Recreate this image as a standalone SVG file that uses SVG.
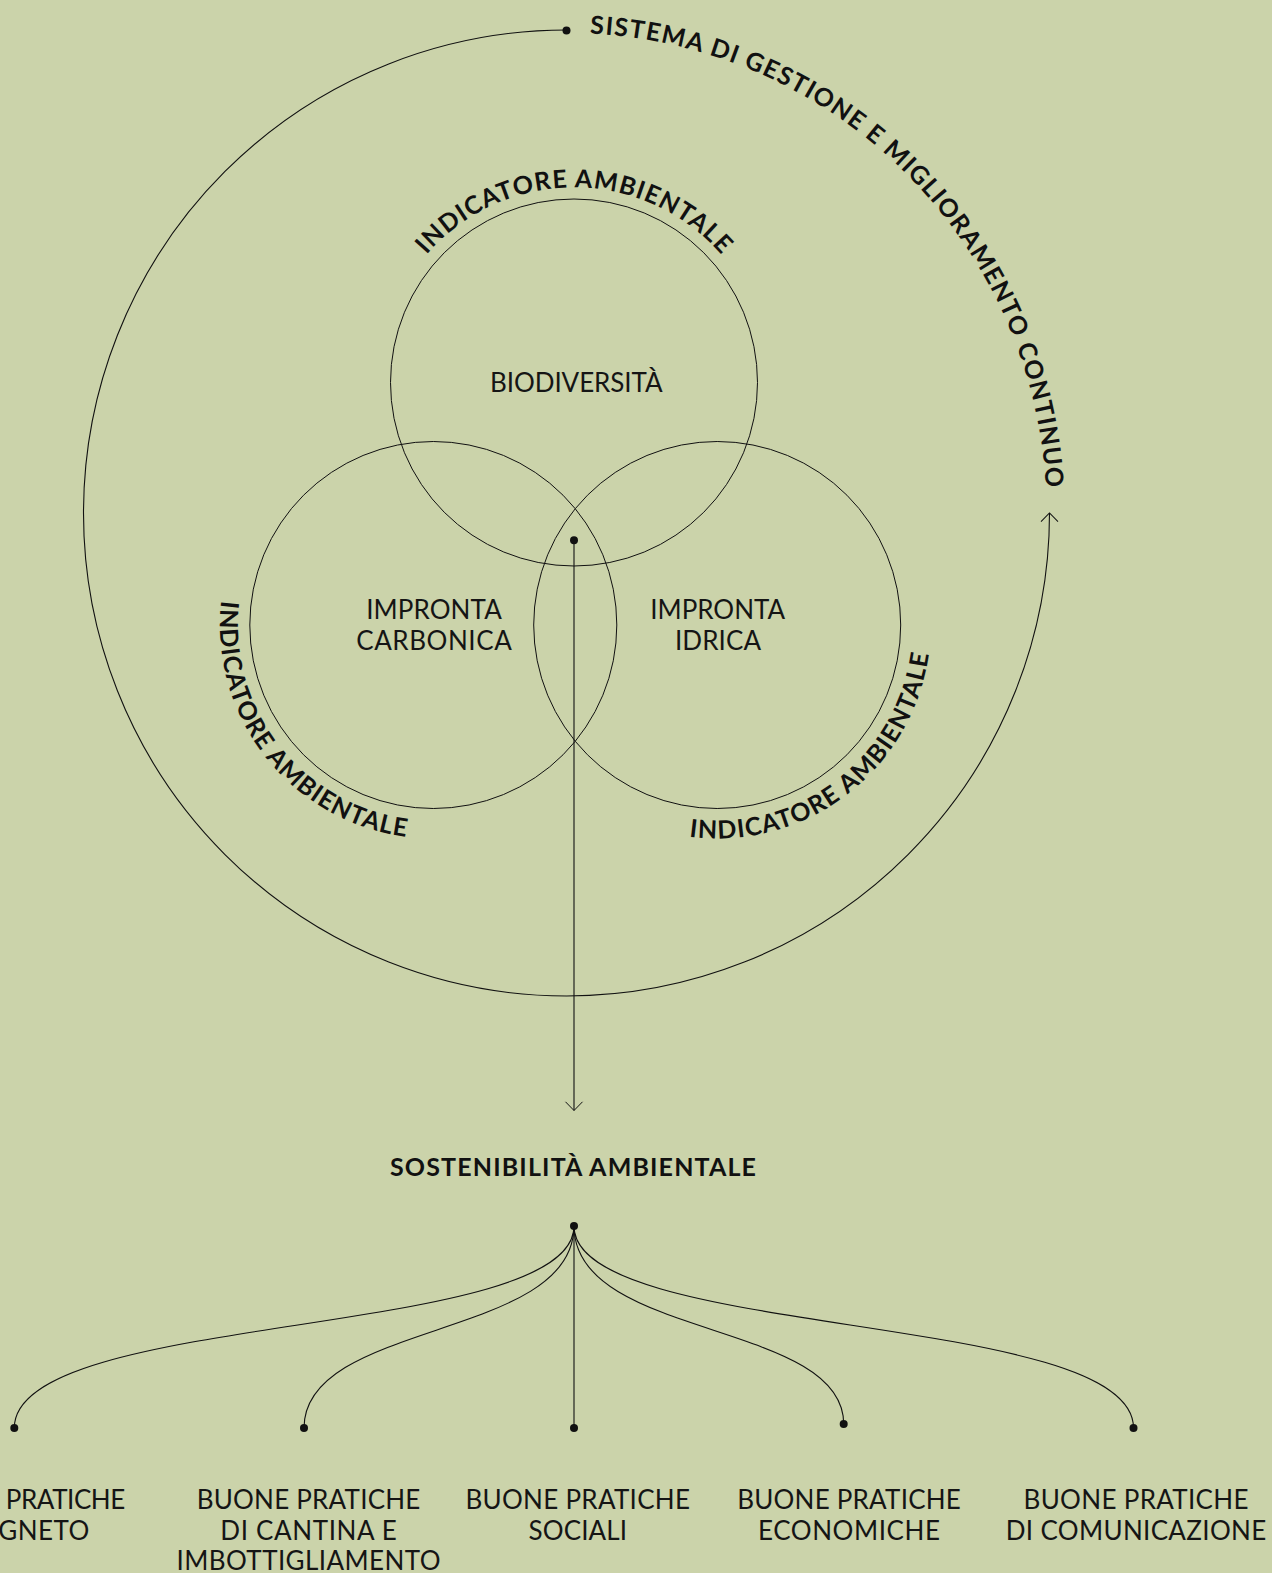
<svg xmlns="http://www.w3.org/2000/svg" xmlns:xlink="http://www.w3.org/1999/xlink" width="1272" height="1573" viewBox="0 0 1272 1573">
  <style>
    .ring { fill: none; stroke: #111; stroke-width: 1; }
    .conn { fill: none; stroke: #111; stroke-width: 1.1; }
    .dot { fill: #111; }
    .bold { font-family: Lato, "Liberation Sans", sans-serif; font-weight: 700; font-size: 25px; fill: #111; }
    .light { font-family: Lato, "Liberation Sans", sans-serif; font-weight: 400; font-size: 26px; fill: #151515; text-anchor: middle; }
  </style>
  <defs>
    <marker id="arrow" markerUnits="userSpaceOnUse" markerWidth="24" markerHeight="24" viewBox="-12 -12 24 24" refX="0" refY="0" orient="auto">
      <path d="M-8.7,-8.5 L0,0 L-8.7,8.5" fill="none" stroke="#111" stroke-width="1"/>
    </marker>
    <path id="p-outer" d="M 566.5 33 A 480 480 0 0 1 1046.5 513"/>
    <path id="p-top" d="M 405.1 285 A 195 195 0 0 1 742.9 285"/>
    <path id="p-left" d="M 235.35 545.02 A 213.5 213.5 0 0 0 463.01 836.42"/>
    <path id="p-right" d="M 634.81 821.96 A 213.5 213.5 0 0 0 928.97 597.87"/>
  </defs>

  <rect width="1272" height="1573" fill="#cbd3aa"/>

  <g id="connectors">
    <path class="conn" d="M 566.5 30 A 483 483 0 1 0 1049.5 513" marker-end="url(#arrow)"/>
    <circle class="dot" cx="566.5" cy="30.5" r="4"/>
    <path class="conn" d="M 574 540 L 574 1110.5" marker-end="url(#arrow)"/>
    <circle class="dot" cx="574" cy="540.3" r="4"/>
    <circle class="dot" cx="574" cy="1226" r="4"/>
    <path class="conn" d="M 574 1226 C 574 1340, 14.3 1310, 14.3 1428"/>
    <path class="conn" d="M 574 1226 C 574 1340, 304 1320, 304 1428"/>
    <path class="conn" d="M 574 1226 L 574 1428"/>
    <path class="conn" d="M 574 1226 C 574 1340, 843.7 1320, 843.7 1424"/>
    <path class="conn" d="M 574 1226 C 574 1340, 1133.5 1310, 1133.5 1428"/>
    <circle class="dot" cx="14.3" cy="1428" r="4"/>
    <circle class="dot" cx="304" cy="1428" r="4"/>
    <circle class="dot" cx="574" cy="1428" r="4"/>
    <circle class="dot" cx="843.7" cy="1424" r="4"/>
    <circle class="dot" cx="1133.5" cy="1428" r="4"/>
  </g>

  <g id="sistema-gestione">
    <text class="bold"><textPath xlink:href="#p-outer" href="#p-outer" startOffset="23.5" textLength="705" lengthAdjust="spacing">SISTEMA DI GESTIONE E MIGLIORAMENTO CONTINUO</textPath></text>
  </g>

  <g id="biodiversita">
    <circle class="ring" cx="574" cy="382.5" r="183.5"/>
    <text class="bold" text-anchor="middle"><textPath xlink:href="#p-top" href="#p-top" startOffset="50%" textLength="334" lengthAdjust="spacing">INDICATORE AMBIENTALE</textPath></text>
    <text class="light" x="576.3" y="392.3" textLength="172.7" lengthAdjust="spacing">BIODIVERSITÀ</text>
  </g>

  <g id="impronta-carbonica">
    <circle class="ring" cx="433.3" cy="625" r="183.5"/>
    <text class="bold" text-anchor="middle"><textPath xlink:href="#p-left" href="#p-left" startOffset="50%" textLength="332" lengthAdjust="spacing">INDICATORE AMBIENTALE</textPath></text>
    <text class="light" x="434" y="619" textLength="135.5" lengthAdjust="spacing">IMPRONTA</text>
    <text class="light" x="434" y="650" textLength="155.5" lengthAdjust="spacing">CARBONICA</text>
  </g>

  <g id="impronta-idrica">
    <circle class="ring" cx="717.2" cy="625" r="183.5"/>
    <text class="bold" text-anchor="middle"><textPath xlink:href="#p-right" href="#p-right" startOffset="50%" textLength="334" lengthAdjust="spacing">INDICATORE AMBIENTALE</textPath></text>
    <text class="light" x="717.7" y="619" textLength="135" lengthAdjust="spacing">IMPRONTA</text>
    <text class="light" x="718" y="650" textLength="86" lengthAdjust="spacing">IDRICA</text>
  </g>

  <g id="sostenibilita-ambientale">
    <text class="bold" x="573" y="1176" text-anchor="middle" textLength="366" lengthAdjust="spacing">SOSTENIBILITÀ AMBIENTALE</text>
  </g>

  <g id="bp-vigneto">
    <text class="light" x="125.3" y="1508.5" style="text-anchor:end" textLength="119.5" lengthAdjust="spacing">PRATICHE</text>
    <text class="light" x="89.3" y="1539.5" style="text-anchor:end" textLength="91" lengthAdjust="spacing">GNETO</text>
  </g>

  <g id="bp-cantina">
    <text class="light" x="308.5" y="1508.5" textLength="223.7" lengthAdjust="spacing">BUONE PRATICHE</text>
    <text class="light" x="308.5" y="1539.5" textLength="176.5" lengthAdjust="spacing">DI CANTINA E</text>
    <text class="light" x="308.5" y="1570" textLength="264" lengthAdjust="spacing">IMBOTTIGLIAMENTO</text>
  </g>

  <g id="bp-sociali">
    <text class="light" x="577.7" y="1508.5" textLength="224.6" lengthAdjust="spacing">BUONE PRATICHE</text>
    <text class="light" x="577.8" y="1539.5" textLength="98.4" lengthAdjust="spacing">SOCIALI</text>
  </g>

  <g id="bp-economiche">
    <text class="light" x="849" y="1508.5" textLength="223.7" lengthAdjust="spacing">BUONE PRATICHE</text>
    <text class="light" x="849" y="1539.5" textLength="182" lengthAdjust="spacing">ECONOMICHE</text>
  </g>

  <g id="bp-comunicazione">
    <text class="light" x="1136" y="1508.5" textLength="225" lengthAdjust="spacing">BUONE PRATICHE</text>
    <text class="light" x="1136" y="1539.5" textLength="260.5" lengthAdjust="spacing">DI COMUNICAZIONE</text>
  </g>
</svg>
